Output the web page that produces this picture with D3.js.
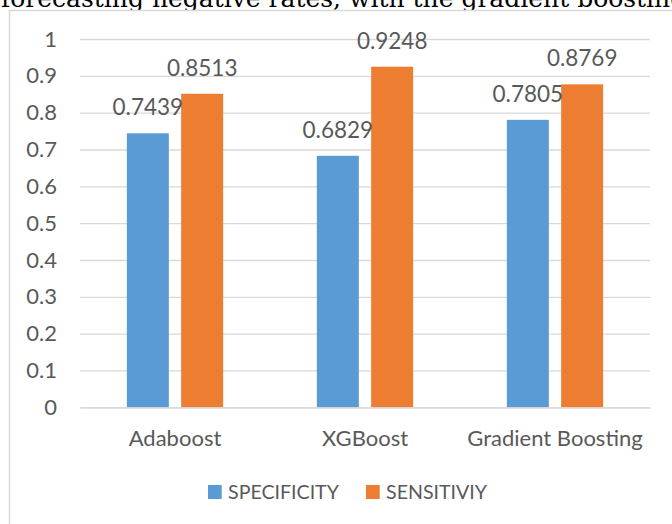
<!DOCTYPE html>
<html>
<head>
<meta charset="utf-8">
<script src="https://cdn.jsdelivr.net/npm/d3@7"></script>
<style>
  html, body { margin: 0; padding: 0; background: #fff; }
  svg { display: block; }
</style>
</head>
<body>
<svg id="chart" width="672" height="524"></svg>
<script>
// Model names along the x axis
const categories = ["Adaboost", "XGBoost", "Gradient Boosting"];
// Series shown in the legend
const seriesNames = ["SPECIFICITY", "SENSITIVIY"];
const seriesColors = ["#5B9BD5", "#ED7D31"];
// Values per model
const specificity = [0.7439, 0.6829, 0.7805];
const sensitivity = [0.8513, 0.9248, 0.8769];
// Y axis ticks
const yTicks = [0, 0.1, 0.2, 0.3, 0.4, 0.5, 0.6, 0.7, 0.8, 0.9, 1];
const yTickLabels = ["0", "0.1", "0.2", "0.3", "0.4", "0.5", "0.6", "0.7", "0.8", "0.9", "1"];

const rows = categories.map((c, i) => ({ category: c, values: [specificity[i], sensitivity[i]] }));

const svg = d3.select("#chart");
const font = "Lato, 'Open Sans', sans-serif";
const textColor = "#595959";
const gridColor = "#D9D9D9";

// Caption line from the surrounding document, cut by the top edge
svg.append("text")
  .attr("x", 1).attr("y", 6.5)
  .attr("font-family", "'DejaVu Serif', serif")
  .attr("font-size", 25)
  .attr("fill", "#000")
  .text("forecasting negative rates, with the gradient boosting");

// Chart frame
svg.append("rect")
  .attr("x", 9.5).attr("y", 10.5)
  .attr("width", 700).attr("height", 600)
  .attr("fill", "#fff")
  .attr("stroke", gridColor)
  .attr("stroke-width", 1.5);

const plot = { left: 80, right: 650, top: 39, bottom: 407.3 };

const x = d3.scaleBand().domain(categories).range([plot.left, plot.right]).padding(0);
const groupWidth = 96.3;
const xInner = d3.scaleBand().domain(d3.range(seriesNames.length))
  .range([(x.bandwidth() - groupWidth) / 2, (x.bandwidth() + groupWidth) / 2])
  .paddingInner(0.227).paddingOuter(0);
const y = d3.scaleLinear().domain([0, 1]).range([plot.bottom, plot.top]);

// Horizontal gridlines and tick labels
const yAxis = d3.axisLeft(y)
  .tickValues(yTicks)
  .tickFormat((d, i) => yTickLabels[i])
  .tickSize(-(plot.right - plot.left))
  .tickPadding(23);
const gy = svg.append("g").attr("transform", `translate(${plot.left},0)`).call(yAxis);
gy.select(".domain").remove();
gy.selectAll(".tick line").attr("stroke", gridColor).attr("stroke-width", 1.3);
gy.selectAll(".tick text")
  .attr("fill", textColor)
  .attr("font-family", font)
  .attr("font-size", 22);

// Bars
const groups = svg.append("g").selectAll("g")
  .data(rows).join("g")
  .attr("transform", d => `translate(${x(d.category)},0)`);

groups.selectAll("rect")
  .data(d => d.values.map((v, i) => ({ v, i })))
  .join("rect")
  .attr("x", d => xInner(d.i))
  .attr("width", xInner.bandwidth())
  .attr("y", d => y(d.v))
  .attr("height", d => y(0) - y(d.v))
  .attr("fill", d => seriesColors[d.i]);

// Value labels above bars
groups.selectAll("text.value")
  .data(d => d.values.map((v, i) => ({ v, i })))
  .join("text")
  .attr("class", "value")
  .attr("x", d => xInner(d.i) + xInner.bandwidth() / 2)
  .attr("y", d => y(d.v) - 18)
  .attr("text-anchor", "middle")
  .attr("fill", textColor)
  .attr("font-family", font)
  .attr("font-size", 22.5)
  .text(d => d.v.toFixed(4));

// X axis baseline and category labels
const xAxis = d3.axisBottom(x).tickSize(0).tickPadding(23);
const gx = svg.append("g").attr("transform", `translate(0,${plot.bottom})`).call(xAxis);
gx.select(".domain").attr("stroke", gridColor).attr("stroke-width", 1.3);
gx.selectAll(".tick text")
  .attr("fill", textColor)
  .attr("font-family", font)
  .attr("font-size", 22);

// Legend
const legendItems = [
  { name: seriesNames[0], color: seriesColors[0], x: 208 },
  { name: seriesNames[1], color: seriesColors[1], x: 366 }
];
const legend = svg.append("g");
legendItems.forEach(it => {
  legend.append("rect")
    .attr("x", it.x).attr("y", 485)
    .attr("width", 13.7).attr("height", 14)
    .attr("fill", it.color);
  legend.append("text")
    .attr("x", it.x + 20).attr("y", 498.5)
    .attr("fill", textColor)
    .attr("font-family", font)
    .attr("font-size", 19.6)
    .text(it.name);
});
</script>
</body>
</html>
